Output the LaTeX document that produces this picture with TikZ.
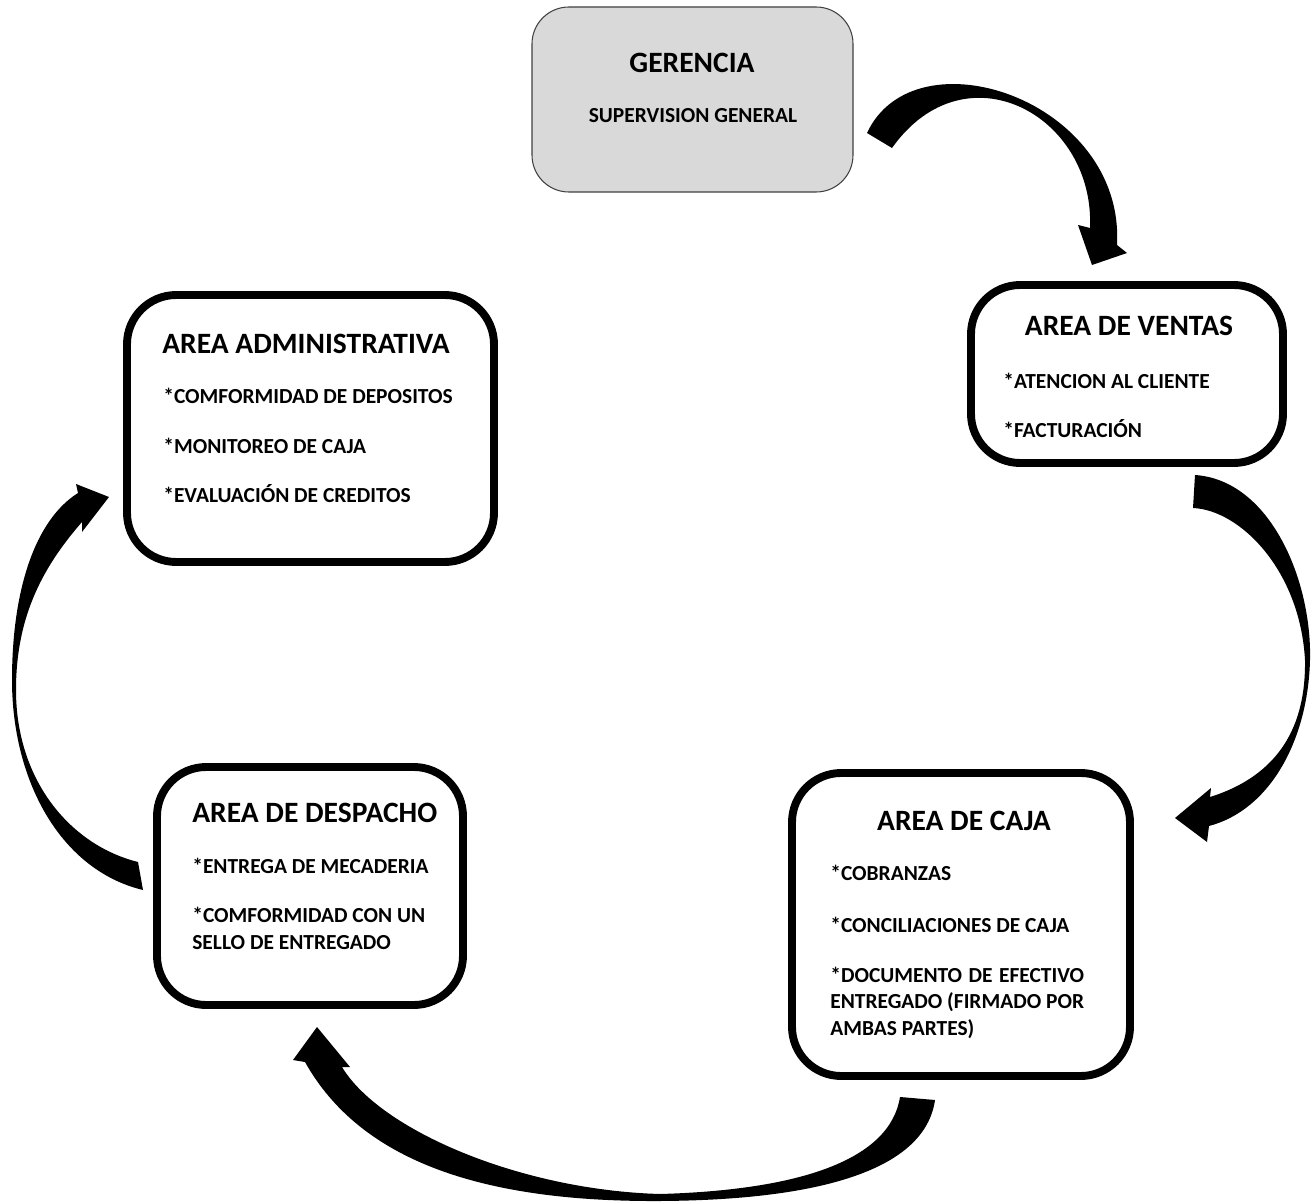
\documentclass[tikz,border=0pt]{standalone}
\usepackage{fontspec}
\setmainfont{Carlito}
\usetikzlibrary{fit}

\tikzset{
  marco/.style={draw=black, line width=4.5pt, rounded corners=28pt, inner sep=0pt, fill=white},
  marcogris/.style={draw=black!75, line width=0.6pt, rounded corners=21pt, inner sep=0pt, fill=black!15},
  titulo/.style={font=\bfseries\fontsize{16.8}{20}\selectfont, inner sep=0pt},
  subtitulo/.style={font=\bfseries\fontsize{12.2}{14}\selectfont, inner sep=0pt},
  texto/.style={font=\bfseries\fontsize{12.2}{14}\selectfont, inner sep=0pt, anchor=base west},
  flecha/.style={fill=black}
}

\begin{document}
\begin{tikzpicture}[x=0.02cm, y=-0.02cm]
    \useasboundingbox[fill=white] (0,0) rectangle (1316,1203);

    % cajas
    \node[marcogris, fit={(532,7) (853,192)}] (ger) {};
    \node[marco, fit={(127,295) (494,562)}] (adm) {};
    \node[marco, fit={(971,285) (1283,463)}] (ven) {};
    \node[marco, fit={(157,767) (463,1005)}] (des) {};
    \node[marco, fit={(792,773) (1130,1076)}] (caj) {};

    % gerencia
    \node[titulo, anchor=base] (tger) at (692,73) {GERENCIA};
    \node[subtitulo, anchor=base] (sger) at (693,123) {SUPERVISION GENERAL};

    % administrativa
    \node[titulo, anchor=base west] (tadm) at (162,353) {AREA ADMINISTRATIVA};
    \node[texto] (adm1) at (163,403) {*COMFORMIDAD DE DEPOSITOS};
    \node[texto] (adm2) at (163,453) {*MONITOREO DE CAJA};
    \node[texto] (adm3) at (163,502) {*EVALUACIÓN DE CREDITOS};

    % ventas
    \node[titulo, anchor=base] (tven) at (1129,335) {AREA DE VENTAS};
    \node[texto] (ven1) at (1003,388) {*ATENCION AL CLIENTE};
    \node[texto] (ven2) at (1003,437) {*FACTURACIÓN};

    % despacho
    \node[titulo, anchor=base west] (tdes) at (192,822) {AREA DE DESPACHO};
    \node[texto] (des1) at (192,873) {*ENTREGA DE MECADERIA};
    \node[texto] (des2) at (192,922) {*COMFORMIDAD CON UN};
    \node[texto] (des3) at (192,949) {SELLO DE ENTREGADO};

    % caja
    \node[titulo, anchor=base] (tcaj) at (964,830) {AREA DE CAJA};
    \node[texto] (caj1) at (830,880) {*COBRANZAS};
    \node[texto] (caj2) at (830,932) {*CONCILIACIONES DE CAJA};
    \node[texto] (caj3) at (830,982)
        {\setbox0\hbox{ENTREGADO (FIRMADO POR}\makebox[\wd0][s]{*DOCUMENTO DE EFECTIVO}};
    \node[texto] (caj4) at (830,1008) {ENTREGADO (FIRMADO POR};
    \node[texto] (caj5) at (830,1035) {AMBAS PARTES)};

    % flechas
    \fill[flecha] (867,133) .. controls (915,30) and (1125,100) .. (1117,245)
        -- (1127,253) -- (1092,265) -- (1078,225) -- (1090,228)
        .. controls (1095,115) and (965,45) .. (892,148) -- cycle;

    \fill[flecha] (1195,475) .. controls (1270,480) and (1312,580) .. (1310,660)
        .. controls (1308,740) and (1270,810) .. (1209,826)
        -- (1207,842) -- (1175,818) -- (1211,788) -- (1210,797)
        .. controls (1280,775) and (1306,725) .. (1305,660)
        .. controls (1300,570) and (1240,510) .. (1193,508) -- cycle;

    \fill[flecha] (935,1100) .. controls (925,1170) and (820,1200) .. (660,1201)
        .. controls (480,1202) and (360,1160) .. (305,1062)
        -- (293,1060) -- (317,1027) -- (350,1067) -- (342,1067)
        .. controls (380,1130) and (520,1190) .. (660,1194)
        .. controls (800,1190) and (890,1160) .. (900,1097) -- cycle;

    \fill[flecha] (143,890) .. controls (60,870) and (12,780) .. (12,680)
        .. controls (12,590) and (35,520) .. (78,493)
        -- (76,484) -- (109,497) -- (82,532) -- (82,522)
        .. controls (40,570) and (16,620) .. (16,690)
        .. controls (16,780) and (70,845) .. (138,862) -- cycle;

\end{tikzpicture}
\end{document}
